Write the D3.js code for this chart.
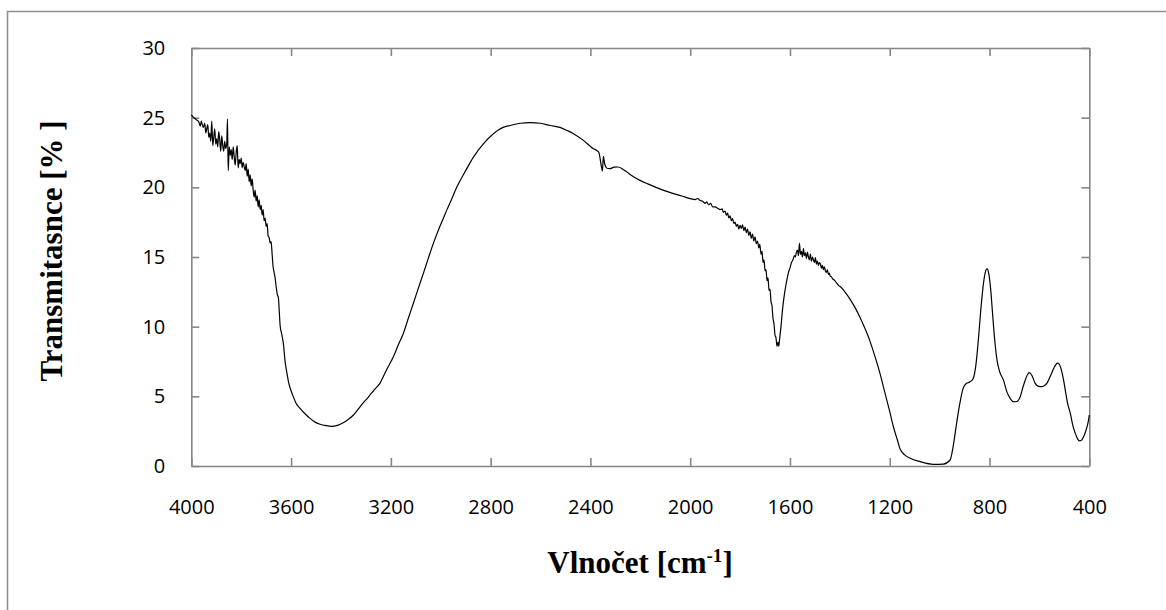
<!DOCTYPE html>
<html>
<head>
<meta charset="utf-8">
<script src="https://cdn.jsdelivr.net/npm/d3@7"></script>
<style>
  html, body { margin: 0; padding: 0; background: #fff; }
  svg { display: block; }
  .tick text { font-family: "Open Sans", Lato, sans-serif; font-size: 20px; fill: #000; }
  .axis path, .axis line { stroke: #868686; stroke-width: 1.6px; }
  .title { font-family: "Liberation Serif", "Times New Roman", serif; font-weight: bold; font-size: 31px; fill: #000; }
</style>
</head>
<body>
<svg id="chart" width="1166" height="610"></svg>
<script>
// IR spectrum: wavenumber (cm^-1) and transmittance (%)
const wavenumber = [
  4000, 3990, 3980, 3970, 3964, 3960, 3956, 3952, 3946, 3942, 3938, 3934, 3930, 3926, 3922, 3918,
  3914, 3910, 3906, 3902, 3898, 3894, 3890, 3886, 3882, 3878, 3874, 3870, 3866, 3862, 3858, 3855,
  3852, 3848, 3844, 3840, 3836, 3832, 3828, 3824, 3820, 3816, 3812, 3808, 3804, 3800, 3796, 3792,
  3788, 3784, 3780, 3776, 3772, 3768, 3764, 3760, 3756, 3752, 3748, 3744, 3740, 3736, 3732, 3728,
  3724, 3720, 3716, 3712, 3708, 3704, 3700, 3696, 3692, 3688, 3684, 3680, 3676, 3672, 3668, 3664,
  3660, 3655, 3651, 3647, 3644, 3638, 3631, 3624, 3617, 3610, 3600, 3591, 3580, 3564, 3544, 3524,
  3504, 3484, 3460, 3437, 3414, 3391, 3370, 3350, 3330, 3310, 3290, 3270, 3244, 3220, 3190, 3170,
  3150, 3130, 3110, 3090, 3070, 3050, 3030, 3010, 2990, 2975, 2960, 2936, 2900, 2869, 2830, 2789,
  2750, 2722, 2680, 2642, 2600, 2562, 2522, 2490, 2468, 2428, 2388, 2375, 2366, 2361, 2356, 2352,
  2348, 2344, 2338, 2330, 2321, 2305, 2288, 2270, 2254, 2230, 2201, 2170, 2134, 2100, 2067, 2033,
  2000, 1980, 1970, 1960, 1950, 1940, 1934, 1926, 1918, 1910, 1900, 1890, 1880, 1872, 1867, 1860,
  1855, 1850, 1845, 1840, 1835, 1830, 1825, 1820, 1815, 1810, 1805,
  1800, 1795, 1790, 1785, 1780, 1775, 1770, 1765, 1760, 1755, 1750, 1745, 1740, 1735, 1730, 1725,
  1721, 1716, 1712, 1708, 1704, 1700, 1696, 1692, 1688, 1684, 1680, 1676, 1672, 1668, 1664, 1660,
  1656, 1652, 1648, 1645, 1641, 1636, 1630, 1624, 1618, 1612, 1606, 1600, 1594, 1588, 1582, 1578,
  1575, 1570, 1566, 1562, 1558, 1554, 1550, 1546, 1542, 1538, 1534, 1530, 1526, 1522, 1518, 1514,
  1510, 1506, 1502, 1498, 1494, 1490, 1486, 1482, 1478, 1474, 1470, 1466, 1462, 1458, 1454, 1450,
  1446, 1442, 1438, 1434, 1430, 1426, 1420, 1412, 1405, 1400, 1380, 1360, 1340, 1320, 1300, 1280,
  1260, 1240, 1220, 1200, 1185, 1170, 1158, 1140, 1118, 1078, 1025, 985, 958, 946, 932, 919,
  906, 893, 878, 865, 855, 845, 835, 825, 817, 810, 803, 796, 788, 780, 770, 760,
  744, 730, 717, 705, 693, 677, 667, 657, 648, 640, 630, 617, 603, 590, 580, 570,
  555, 540, 528, 520, 512, 503, 495, 487, 476, 466, 456, 447, 439, 431, 423, 416,
  409, 404, 400
];
const transmittance = [
  25.2, 25.0, 24.85, 24.7, 24.4, 24.75, 24.5, 24.3, 24.6, 23.9, 24.2, 24.5, 23.6, 23.9, 23.3, 24.75,
  23.0, 23.6, 24.2, 23.1, 23.5, 22.9, 24.0, 23.4, 22.6, 23.7, 23.0, 22.6, 23.3, 22.8, 23.1, 24.9,
  21.2, 22.9, 22.3, 22.7, 22.0, 22.9, 22.2, 21.6, 22.5, 23.0, 21.4, 22.0, 21.7, 22.1, 21.4, 21.8,
  21.5, 21.2, 21.7, 20.8, 21.3, 20.4, 20.9, 20.1, 20.6, 19.8, 19.3, 19.8, 19.0, 19.4, 18.6, 19.1,
  18.4, 18.7, 18.0, 18.4, 17.6, 17.8, 17.2, 17.4, 16.5, 16.4, 16.0, 16.1, 15.2, 14.3, 13.9, 13.5,
  12.9, 12.3, 12.1, 11.0, 10.1, 9.5, 8.8, 7.5, 6.7, 6.0, 5.4, 4.97, 4.5, 4.14, 3.75, 3.42,
  3.15, 3.0, 2.9, 2.85, 2.92, 3.1, 3.35, 3.66, 4.1, 4.55, 4.95, 5.4, 5.93, 6.8, 7.84, 8.7,
  9.51, 10.6, 11.66, 12.75, 13.81, 14.9, 15.96, 16.9, 17.76, 18.4, 19.0, 20.0, 21.2, 22.17, 23.1, 23.85,
  24.3, 24.44, 24.6, 24.64, 24.6, 24.44, 24.3, 24.05, 23.85, 23.37, 22.77, 22.65, 22.5, 22.06, 21.5, 21.17,
  22.22, 21.8, 21.46, 21.35, 21.34, 21.45, 21.46, 21.3, 21.1, 20.8, 20.5, 20.25, 19.98, 19.75, 19.55, 19.38,
  19.19, 19.12, 19.2, 19.05, 19.0, 18.85, 18.95, 18.75, 18.85, 18.6, 18.6, 18.5, 18.4, 18.45, 18.2, 18.3,
  18.0, 18.15, 17.8, 17.95, 17.6, 17.75, 17.4, 17.5, 17.2, 17.35, 17.0,
  17.28, 17.05, 17.3, 16.9, 17.15, 16.75, 17.0, 16.55, 16.8, 16.35, 16.65, 16.15, 16.45, 15.95, 16.15, 15.65,
  15.9, 15.2, 15.4, 14.6, 14.8, 14.0, 14.1, 13.3, 13.5, 12.6, 12.7, 11.8, 11.5, 10.6, 10.2, 9.4,
  9.2, 8.6, 8.9, 8.6, 9.2, 10.0, 11.2, 12.1, 12.8, 13.4, 13.9, 14.2, 14.6, 14.8, 15.1, 15.0,
  15.3, 15.5, 15.1, 16.0, 15.2, 15.4, 15.0, 15.6, 15.1, 15.3, 14.9, 15.35, 15.0, 14.8, 15.2, 14.7,
  15.0, 14.8, 14.6, 14.95, 14.5, 14.7, 14.4, 14.6, 14.5, 14.2, 14.4, 14.1, 14.3, 14.0, 13.9, 14.1,
  13.75, 13.85, 13.6, 13.6, 13.45, 13.4, 13.3, 13.1, 12.95, 12.9, 12.5, 12.0, 11.4, 10.7, 9.9, 9.0,
  7.9, 6.7, 5.3, 3.9, 2.8, 1.9, 1.2, 0.8, 0.55, 0.31, 0.12, 0.14, 0.43, 1.38, 3.06, 4.49,
  5.57, 5.93, 6.04, 6.3, 7.2, 9.0, 11.2, 13.0, 13.9, 14.15, 13.8, 12.8, 11.0, 9.2, 7.6, 6.8,
  6.16, 5.3, 4.85, 4.62, 4.61, 4.97, 5.6, 6.16, 6.55, 6.7, 6.5, 5.93, 5.72, 5.69, 5.78, 5.93,
  6.5, 7.1, 7.38, 7.3, 6.9, 6.16, 5.3, 4.5, 3.78, 2.9, 2.34, 1.95, 1.81, 1.85, 2.1, 2.4,
  2.82, 3.2, 3.66
];
const xTicks = [4000, 3600, 3200, 2800, 2400, 2000, 1600, 1200, 800, 400];
const yTicks = [0, 5, 10, 15, 20, 25, 30];

const svg = d3.select("#chart");
const W = 1166, H = 610;
const plot = { left: 191.3, right: 1089.3, top: 48, bottom: 466 };

svg.append("rect").attr("width", W).attr("height", H).attr("fill", "#fff");

// outer frame (left and top edges fall inside the canvas)
svg.append("path")
  .attr("d", `M7.5,${H}V11.5H${W}`)
  .attr("fill", "none").attr("stroke", "#8f8f8f").attr("stroke-width", 1.6);

const x = d3.scaleLinear().domain([4000, 400]).range([plot.left, plot.right]);
const y = d3.scaleLinear().domain([0, 30]).range([plot.bottom, plot.top]);

// axes with inward ticks on all four sides
svg.append("g").attr("class", "axis")
  .attr("transform", `translate(0,${plot.bottom})`)
  .call(d3.axisBottom(x).tickValues(xTicks).tickFormat(d3.format("d"))
    .tickSizeInner(-8).tickSizeOuter(0).tickPadding(34));

svg.append("g").attr("class", "axis")
  .attr("transform", `translate(0,${plot.top})`)
  .call(d3.axisTop(x).tickValues(xTicks).tickFormat("")
    .tickSizeInner(-8).tickSizeOuter(0));

svg.append("g").attr("class", "axis")
  .attr("transform", `translate(${plot.left},0)`)
  .call(d3.axisLeft(y).tickValues(yTicks).tickFormat(d3.format("d"))
    .tickSizeInner(-8).tickSizeOuter(0).tickPadding(26));

svg.append("g").attr("class", "axis")
  .attr("transform", `translate(${plot.right},0)`)
  .call(d3.axisRight(y).tickValues(yTicks).tickFormat("")
    .tickSizeInner(-8).tickSizeOuter(0));

// spectrum trace
const pts = wavenumber.map((w, i) => [w, transmittance[i]]);
const line = d3.line()
  .x(d => x(d[0]))
  .y(d => y(d[1]))
  .curve(d3.curveMonotoneX);

svg.append("path")
  .datum(pts)
  .attr("d", line)
  .attr("fill", "none")
  .attr("stroke", "#000")
  .attr("stroke-width", 1.2)
  .attr("stroke-linejoin", "round");

// axis titles
const xt = svg.append("text").attr("class", "title")
  .attr("x", 640).attr("y", 573).attr("text-anchor", "middle");
xt.append("tspan").text("Vlnočet [cm");
xt.append("tspan").attr("font-size", "19px").attr("dy", -11).text("-1");
xt.append("tspan").attr("dy", 11).text("]");

svg.append("text").attr("class", "title")
  .attr("transform", "translate(62,251) rotate(-90)")
  .attr("text-anchor", "middle")
  .text("Transmitasnce [% ]");
</script>
</body>
</html>
